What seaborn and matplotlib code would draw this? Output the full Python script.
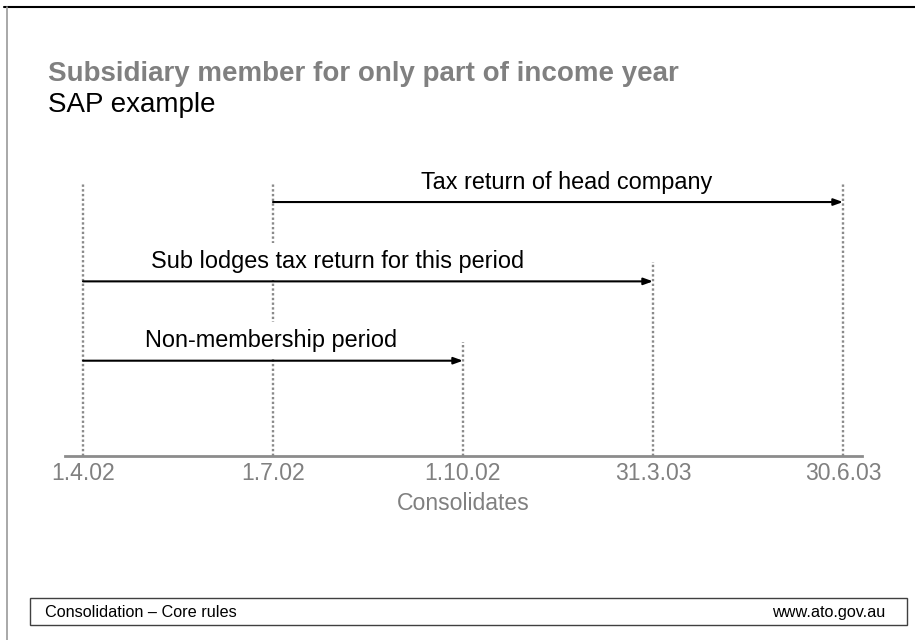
import matplotlib
matplotlib.use("Agg")
import matplotlib.pyplot as plt
from matplotlib.lines import Line2D
from matplotlib.patches import Rectangle
import seaborn as sns

# ---------------- data ----------------
dates = ["1.4.02", "1.7.02", "1.10.02", "31.3.03", "30.6.03"]
date_line_tops = [3.24, 3.24, 1.23, 2.24, 3.24]

periods = ["Tax return of head company",
           "Sub lodges tax return for this period",
           "Non-membership period"]
period_start = [1, 0, 0]
period_end = [4, 3, 2]
period_row = [3, 2, 1]
label_x = [2.545, 1.342, 0.989]

axis_label = "Consolidates"
title = "Subsidiary member for only part of income year"
subtitle = "SAP example"
footer_left = "Consolidation \u2013 Core rules"
footer_right = "www.ato.gov.au"

# ---------------- style ----------------
sns.set_theme(style="white")
plt.rcParams['font.family'] = ['Liberation Sans', 'DejaVu Sans']

W, H = 915, 640
fig = plt.figure(figsize=(W / 100, H / 100), dpi=100)
fig.patch.set_facecolor("white")


def fx(px):
    return px / W


def fy(py):
    return 1 - py / H


# axes: x from 65px to 862px, y from 183px (top) to 455.5px (baseline)
ax = fig.add_axes([fx(65), fy(455.5), fx(862) - fx(65), fy(183) - fy(455.5)])
ax.set_facecolor("none")
ax.set_xlim(-0.0947, 4.1)
ax.set_ylim(-0.195, 3.24)

grey = "#808080"

# dotted vertical date lines
ax.vlines(range(len(dates)), -0.195, date_line_tops, colors="#8a8a8a",
          linestyles=(0, (1, 1)), linewidth=1.7, zorder=1)

# period arrows and labels
for name, s, e, r, lx in zip(periods, period_start, period_end, period_row, label_x):
    ax.annotate("", xy=(e, r), xytext=(s, r), annotation_clip=False,
                arrowprops=dict(arrowstyle="-|>,head_length=0.55,head_width=0.2",
                                mutation_scale=10, lw=1.5, color="black",
                                shrinkA=0, shrinkB=0), zorder=4)
    ax.text(lx, r + 0.17, name, ha="center", va="baseline", fontsize=16.9,
            color="black", zorder=3,
            bbox=dict(facecolor="white", edgecolor="none", pad=5))

ax.set_xticks(range(len(dates)), dates)
ax.set_yticks([])
ax.tick_params(axis="x", length=0, pad=5, labelsize=16.6, labelcolor=grey)
ax.set_xlabel(axis_label, fontsize=16.6, color=grey, labelpad=5)

sns.despine(ax=ax, left=True, top=True, right=True)
ax.spines["bottom"].set_color("#8c8c8c")
ax.spines["bottom"].set_linewidth(2)

# titles
fig.text(fx(48), fy(81), title, fontsize=20, fontweight="bold", color=grey,
         ha="left", va="baseline")
fig.text(fx(48), fy(112), subtitle, fontsize=20, color="black",
         ha="left", va="baseline")

# slide borders
fig.add_artist(Line2D([fx(4), 1], [fy(7), fy(7)], color="black", lw=1.5))
fig.add_artist(Line2D([fx(6.5), fx(6.5)], [fy(7), 0], color="#9a9a9a", lw=1.2))

# footer
fig.add_artist(Rectangle((fx(30), fy(625)), fx(907) - fx(30), fy(598) - fy(625),
                         transform=fig.transFigure, fill=False,
                         edgecolor="#404040", lw=1))
fig.text(fx(45), fy(617), footer_left, fontsize=11.7, color="black",
         ha="left", va="baseline")
fig.text(fx(885), fy(617), footer_right, fontsize=11.7, color="black",
         ha="right", va="baseline")

fig.savefig("out.png", dpi=100)
